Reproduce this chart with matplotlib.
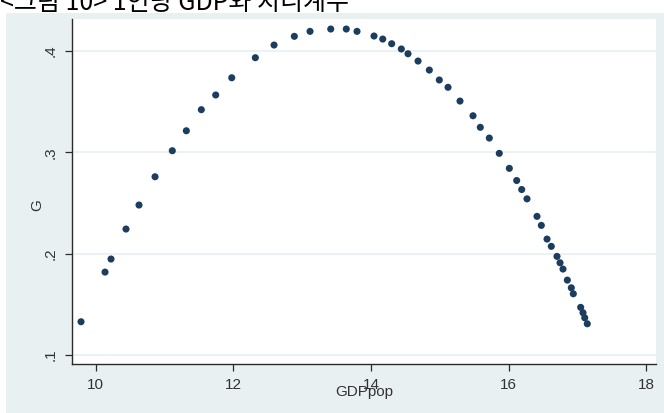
## G vs GDPpop scatter ##
import matplotlib.pyplot as plt
from matplotlib.patches import Rectangle
import numpy as np

gdppop = [9.786, 10.135, 10.222, 10.440, 10.629, 10.862, 11.113, 11.317, 11.535, 11.744,
          11.977, 12.320, 12.592, 12.887, 13.115, 13.416, 13.642, 13.798, 14.045, 14.172,
          14.302, 14.442, 14.539, 14.685, 14.849, 14.994, 15.121, 15.295, 15.484, 15.590,
          15.721, 15.866, 16.012, 16.119, 16.192, 16.269, 16.414, 16.477, 16.560, 16.622,
          16.705, 16.749, 16.792, 16.855, 16.913, 16.942, 17.049, 17.083, 17.108, 17.145]
g = [0.1328, 0.1818, 0.1947, 0.2243, 0.2480, 0.2759, 0.3016, 0.3213, 0.3421, 0.3566,
     0.3736, 0.3934, 0.4059, 0.4145, 0.4194, 0.4217, 0.4217, 0.4194, 0.4148, 0.4118,
     0.4072, 0.4020, 0.3973, 0.3901, 0.3812, 0.3714, 0.3642, 0.3506, 0.3361, 0.3247,
     0.3141, 0.2990, 0.2842, 0.2722, 0.2633, 0.2541, 0.2368, 0.2279, 0.2144, 0.2072,
     0.1973, 0.1910, 0.1848, 0.1739, 0.1663, 0.1604, 0.1470, 0.1417, 0.1367, 0.1308]

xticks = [10, 12, 14, 16, 18]
yticks = [0.1, 0.2, 0.3, 0.4]
ylabels = ['.1', '.2', '.3', '.4']

title = '<그림 10> 1인당 GDP와 지니계수'

plt.rcParams['font.family'] = ['Liberation Sans', 'DejaVu Sans']

fig = plt.figure(figsize=(6.64, 4.13), dpi=100, facecolor='white')

# light graph region behind the plot
bg = Rectangle((6 / 664, 0), 1, (413 - 13) / 413, transform=fig.transFigure,
               facecolor='#e8f0f2', edgecolor='none', zorder=-10)
fig.add_artist(bg)

# caption line, cut at the top edge
fig.text(0.0, 1 - 10 / 413, title, fontsize=18, color='black', va='baseline', ha='left',
         family=['Noto Sans CJK KR', 'DejaVu Sans'], zorder=-5)

ax = fig.add_axes([72 / 664, 1 - 364 / 413, (656 - 72) / 664, (364 - 19) / 413])
ax.set_facecolor('white')

ax.scatter(gdppop, g, s=26, color='#1c3d5e', edgecolors='none', zorder=3)

ax.set_xlim(9.655, 18.144)
ax.set_ylim(0.0911, 0.4316)

ax.set_xticks(xticks)
ax.set_xticklabels([str(t) for t in xticks])
ax.set_yticks(yticks)
ax.set_yticklabels(ylabels, rotation=90, va='center')

ax.grid(True, axis='y', color='#e6eef1', linewidth=1.1)
ax.set_axisbelow(True)

for side in ['top', 'right']:
    ax.spines[side].set_visible(False)
for side in ['left', 'bottom']:
    ax.spines[side].set_color('#2b2b2b')
    ax.spines[side].set_linewidth(1.0)

ax.tick_params(axis='both', length=5, width=0.9, color='#2b2b2b', labelcolor='#333333',
               labelsize=11, pad=5)

ax.set_xlabel('GDPpop', fontsize=11, color='#333333', labelpad=-5)
ax.set_ylabel('G', fontsize=11, color='#333333')
ax.yaxis.set_label_coords(-0.048, 0.46)

plt.savefig('out.png', dpi=100, facecolor=fig.get_facecolor())
